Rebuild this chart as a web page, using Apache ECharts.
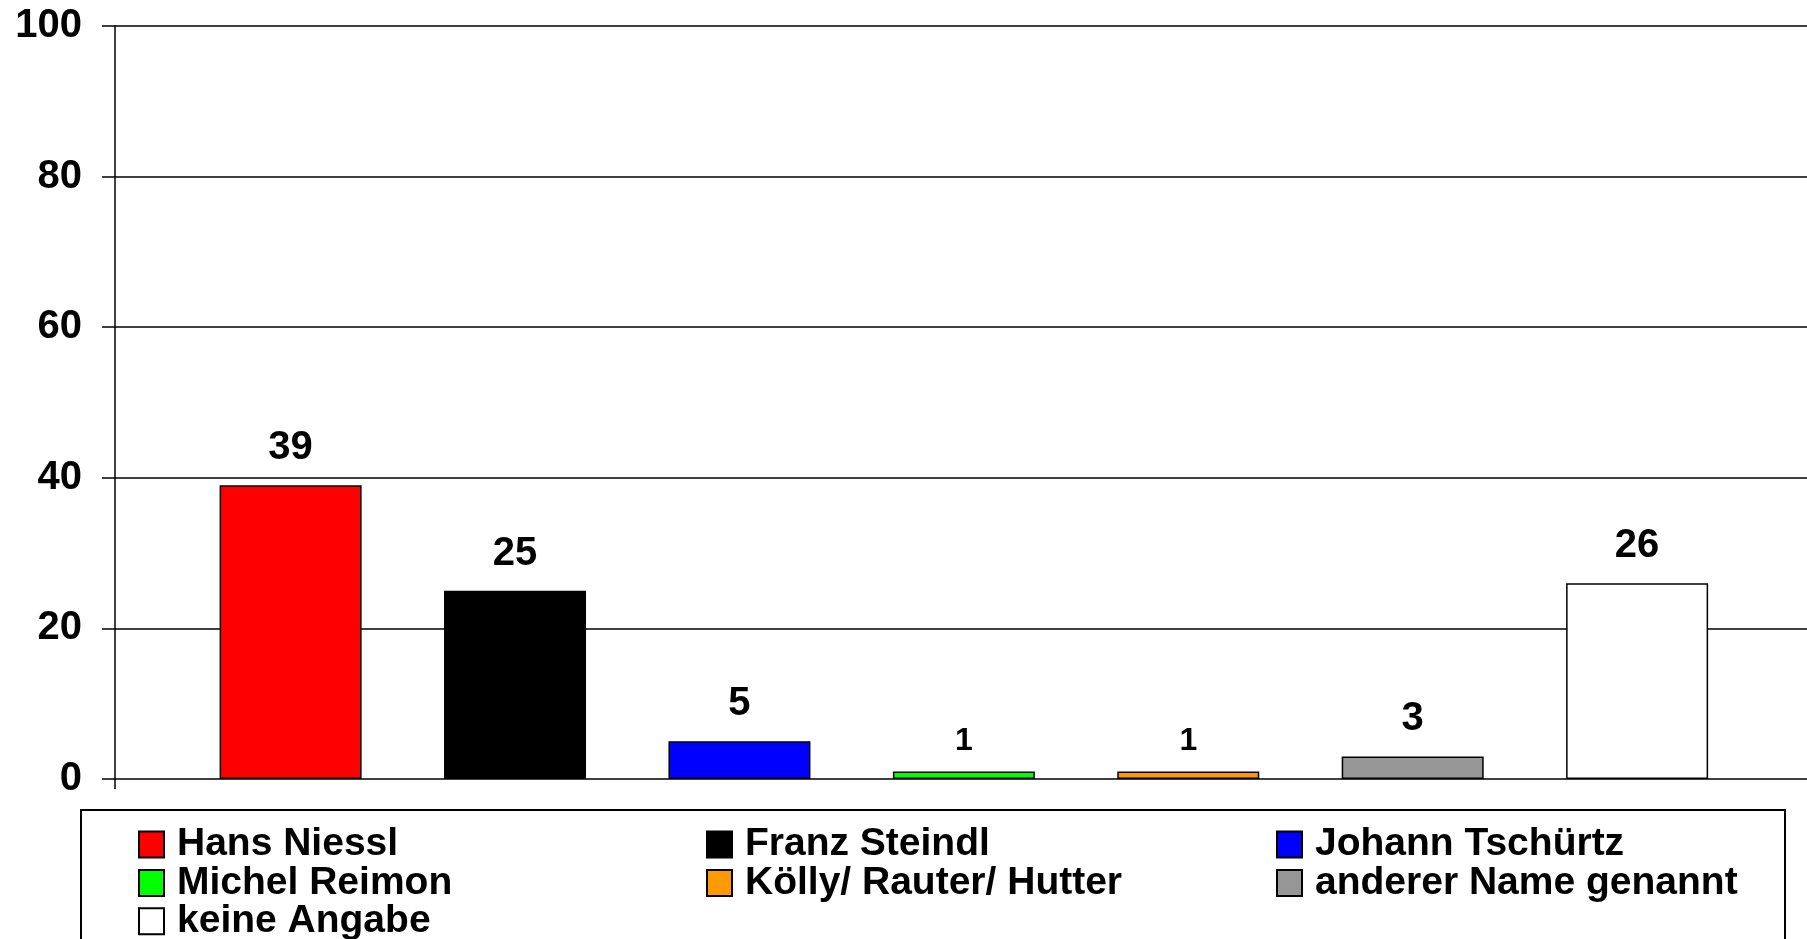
<!DOCTYPE html>
<html>
<head>
<meta charset="utf-8">
<title>Kandidaten</title>
<script src="https://cdn.jsdelivr.net/npm/echarts@6/dist/echarts.min.js"></script>
<style>
  html, body { margin: 0; padding: 0; background: #fff; }
  #chart { width: 1807px; height: 939px; }
</style>
</head>
<body>
<div id="chart"></div>
<script>
// Daten (Prozent)
const names = ["Hans Niessl", "Franz Steindl", "Johann Tschürtz", "Michel Reimon", "Kölly/ Rauter/ Hutter", "anderer Name genannt", "keine Angabe"];
const values = [39, 25, 5, 1, 1, 3, 26];
const colors = ["#ff0000", "#000000", "#0000ff", "#00ff00", "#ff9900", "#969696", "#ffffff"];
const yTicks = [0, 20, 40, 60, 80, 100];

// Legendenspalten
const legendCols = [
  ["Hans Niessl", "Michel Reimon", "keine Angabe"],
  ["Franz Steindl", "Kölly/ Rauter/ Hutter"],
  ["Johann Tschürtz", "anderer Name genannt"]
];
const legendLeft = [138, 706, 1276];

const FONT = "'Liberation Sans', Arial, sans-serif";

const chart = echarts.init(document.getElementById("chart"));

// Achse so gesetzt, dass der erste Balken wie im Original eingerückt ist
const xMin = -0.7825;
const xMax = values.length - 1 + 0.757;

const series = names.map((name, i) => ({
  name: name,
  type: "bar",
  barWidth: 142,
  barGap: "-100%",
  data: [[i, values[i]]],
  itemStyle: { color: colors[i], borderColor: "#000", borderWidth: 1.5 },
  label: {
    show: true,
    position: "top",
    distance: values[i] <= 1 ? 14 : 17,
    fontFamily: FONT,
    fontWeight: "bold",
    fontSize: values[i] <= 1 ? 32 : 40,
    color: "#000"
  },
  emphasis: { disabled: true },
  animation: false
}));

const legends = legendCols.map((col, k) => ({
  orient: "vertical",
  left: legendLeft[k],
  top: 825,
  height: 140,
  padding: 0,
  icon: "rect",
  itemWidth: 25,
  itemHeight: 26,
  itemGap: -0.6,
  selectedMode: false,
  data: col,
  textStyle: {
    fontFamily: FONT,
    fontWeight: "bold",
    fontSize: 39,
    color: "#000",
    padding: [0, 0, 0, 8]
  }
}));

chart.setOption({
  backgroundColor: "#fff",
  animation: false,
  grid: { left: 115, right: 0, top: 26, bottom: 160, containLabel: false, outerBoundsMode: "none" },
  xAxis: {
    type: "value",
    min: xMin,
    max: xMax,
    axisLine: { show: false },
    axisLabel: { show: false },
    splitLine: { show: false },
    axisTick: { show: true, customValues: [xMin], length: 10, lineStyle: { color: "#000", width: 1.5 } }
  },
  yAxis: {
    type: "value",
    min: yTicks[0],
    max: yTicks[yTicks.length - 1],
    interval: 20,
    axisLine: { show: true, onZero: false, lineStyle: { color: "#000", width: 1.5 } },
    axisTick: { show: true, length: 13, lineStyle: { color: "#000", width: 1.5 } },
    axisLabel: { margin: 33, fontFamily: FONT, fontWeight: "bold", fontSize: 40, color: "#000" },
    splitLine: { show: true, lineStyle: { color: "#000", width: 1.5 } }
  },
  legend: legends,
  graphic: [{
    type: "rect",
    shape: { x: 81, y: 810, width: 1704, height: 200 },
    style: { fill: "none", stroke: "#000", lineWidth: 2 },
    silent: true
  }],
  series: series
});
</script>
</body>
</html>
